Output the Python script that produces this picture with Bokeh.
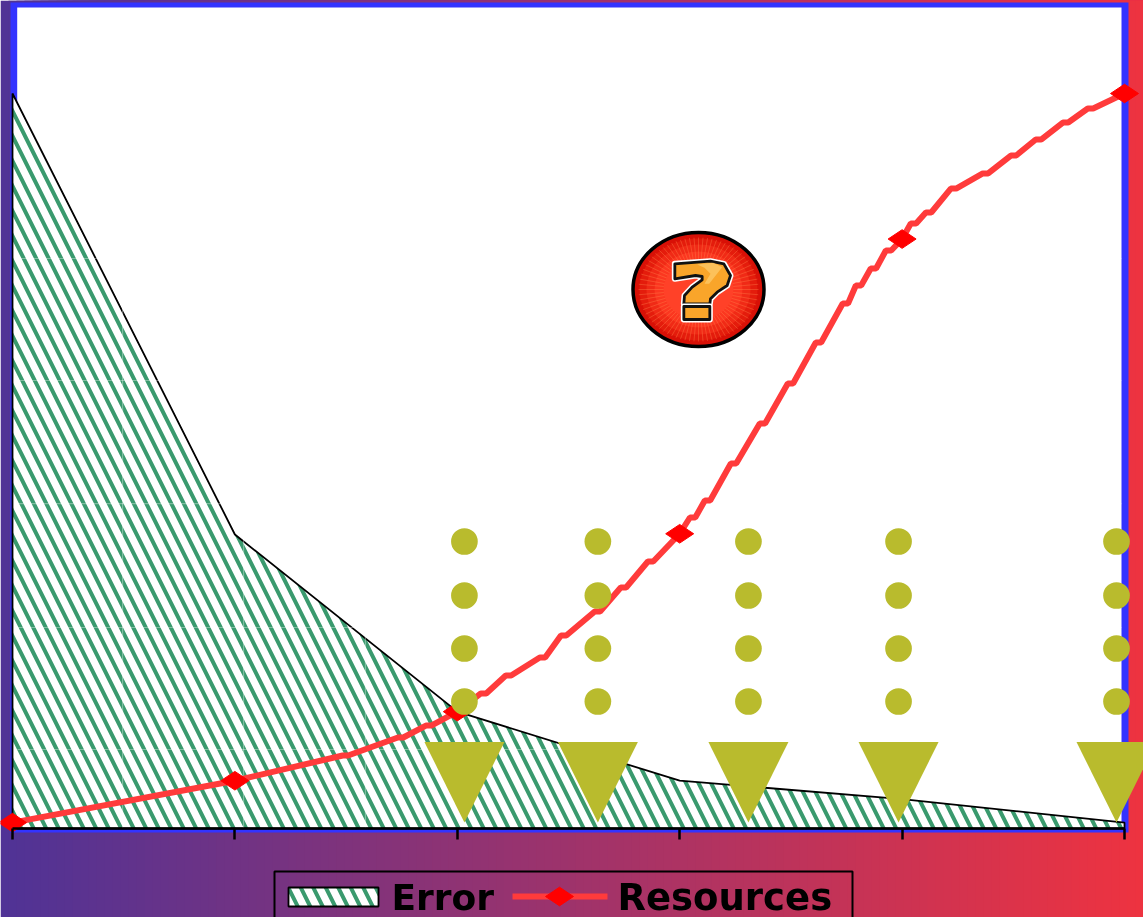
import numpy as np
from bokeh.plotting import figure
from bokeh.models import FixedTicker
from bokeh.core.properties import value
from bokeh.embed import file_html
from bokeh.resources import INLINE

# ---- data (x = category index, y = percent) ----
categories = [0, 1, 2, 3, 4, 5]
error_values = [100, 40, 15.9, 6.5, 4.0, 0.8]
resources_values = [0.8, 6.5, 15.9, 40.1, 80.2, 100]

# the drawn Resources line runs through these readings, with small jogs
path_x = [0, 1, 1.497, 1.745, 1.871, 2, 2.118, 2.230, 2.383, 2.478, 2.630, 2.747, 2.869, 3,
          3.058, 3.125, 3.242, 3.372, 3.498, 3.624, 3.745, 3.804, 3.871, 3.939, 4,
          4.051, 4.119, 4.231, 4.375, 4.501, 4.613, 4.735, 4.847, 5]
path_y = [0.8, 6.5, 9.93, 12.38, 14.0, 15.9, 18.37, 20.82, 23.27, 26.26, 29.52, 32.79, 36.33, 40.1,
          42.31, 44.63, 49.66, 55.10, 60.54, 66.12, 71.43, 73.88, 76.19, 78.64, 80.2,
          82.31, 83.81, 87.07, 89.12, 91.56, 93.74, 96.05, 97.96, 100]

marker_x = [2.032, 2.632, 3.309, 3.984, 4.964]
dot_levels = [39.05, 31.7, 24.49, 17.28]
triangle_tip = 0.82
triangle_top = 11.77
grid_x = [0.495, 1.039, 1.587]
grid_y = [77.55, 60.95, 44.2, 27.35, 10.75]
legend_labels = ["Error", "Resources"]

W, H = 1143, 917
X0, XS, Y0, YS = 12, 222.4, 828, 7.35


def px(v):
    return (np.asarray(v, dtype=float) - X0) / XS


def py(v):
    return (Y0 - np.asarray(v, dtype=float)) / YS


p = figure(width=W, height=H, output_backend="svg", toolbar_location=None,
           x_range=(float(px(0)), float(px(W))), y_range=(float(py(H)), float(py(0))),
           min_border=0, outline_line_color=None, border_fill_alpha=0, background_fill_alpha=0,
           styles={"position": "fixed", "left": "0", "top": "0"})
p.grid.visible = False
p.yaxis.visible = False

# background gradient: each band runs to the right edge and is painted over by the next
n = 143
edges = np.linspace(0, W, n + 1)
c0, c1 = np.array([0x4f, 0x33, 0x96]), np.array([0xee, 0x33, 0x40])
cols = ["#%02x%02x%02x" % tuple(int(round(v)) for v in c0 + (c1 - c0) * (i + .5) / n) for i in range(n)]
p.quad(left=px(edges[:-1]), right=float(px(W)), bottom=float(py(H)), top=float(py(0)),
       fill_color=cols, line_color=None)

# plot area
p.quad(left=px(10), right=px(1128), bottom=py(832), top=py(2), fill_color="#3333ff", line_color=None)
p.quad(left=px(16.7), right=px(1121), bottom=py(828), top=py(7), fill_color="#ffffff", line_color=None)

# error area
hatch = dict(hatch_pattern="left_diagonal_line", hatch_color="#3a9a6e", hatch_weight=4, hatch_scale=25)
p.patch(categories + [5, 0], error_values + [0, 0], fill_color="#ffffff", line_color="#000000",
        line_width=1.8, **hatch)

# faint grid over the hatch
p.segment(x0=[float(px(17))] * len(grid_y), x1=[float(px(1121))] * len(grid_y), y0=grid_y, y1=grid_y,
          line_color="#ffffff", line_alpha=0.35, line_width=1.2)
p.segment(x0=grid_x, x1=grid_x, y0=[0] * len(grid_x), y1=[100] * len(grid_x),
          line_color="#ffffff", line_alpha=0.35, line_width=1.2)

# resources line
lx, ly = [], []
jog = 0.012
for x, y in zip(path_x, path_y):
    if x in categories:
        lx.append(x); ly.append(y)
    else:
        lx += [x - jog, x + jog]; ly += [y, y]
p.line(lx, ly, line_color="#ff3b3b", line_width=6)
p.scatter(categories, resources_values, marker="diamond", size=28, angle=np.pi / 2,
          fill_color="#ff0000", line_color="#ff0000")

# dots and triangles
yellow = "#b9bb2d"
for lev in dot_levels:
    p.scatter(marker_x, [lev] * len(marker_x), marker="circle", size=26.7, fill_color=yellow, line_color=None)
half = 40 / XS
p.patches([[x - half, x + half, x] for x in marker_x],
          [[triangle_top, triangle_top, triangle_tip]] * len(marker_x),
          fill_color=yellow, line_color=None)

# question-mark badge
cx, cy = float(px(698)), float(py(289))
p.ellipse(cx, cy, width=131, height=114, width_units="screen", height_units="screen",
          fill_color="#d81006", line_color="#000000", line_width=3.5)
for w_, h_, c_ in [(118, 102, "#e41c0c"), (104, 90, "#f02a16"), (88, 76, "#fb3720")]:
    p.ellipse(cx, cy, width=w_, height=h_, width_units="screen", height_units="screen",
              fill_color=c_, line_color=None)
ang = np.arange(0, 2 * np.pi, 2 * np.pi / 72)
rad = (60 * 52) / np.sqrt((52 * np.cos(ang)) ** 2 + (60 * np.sin(ang)) ** 2)
p.ray([cx] * len(ang), [cy] * len(ang), length=rad, angle=ang, length_units="screen",
      line_color="#ff8a50", line_alpha=0.35, line_width=1)
p.ellipse(cx, cy, width=70, height=60, width_units="screen", height_units="screen",
          fill_color="#ff4128", line_color=None)
q = np.array([(163, 130), (270, 122), (310, 130), (330, 165), (320, 195), (290, 215), (270, 235), (268, 250),
              (190, 250), (192, 225), (215, 200), (245, 178), (245, 168), (225, 165), (163, 175)], float)
d = np.array([(190, 258), (268, 258), (268, 297), (190, 297)], float)
hl = np.array([(230, 132), (278, 127), (305, 140), (266, 190), (252, 190), (270, 160), (252, 142)], float)
for pts in (q, d):
    xs, ys = px(620 + pts[:, 0] / 3), py(220 + pts[:, 1] / 3)
    p.patch(xs, ys, fill_color=None, line_color="#ffffff", line_width=6, line_join="round")
    p.patch(xs, ys, fill_color="#f9a52a", line_color="#111111", line_width=2.8, line_join="round")
p.patch(px(620 + hl[:, 0] / 3), py(220 + hl[:, 1] / 3), fill_color="#fcc866", line_color=None, fill_alpha=0.8)

# legend, drawn by hand because of its position
p.quad(left=px(274), right=px(852), bottom=py(925), top=py(871), fill_color=None, line_color="#000000", line_width=2)
p.quad(left=px(288), right=px(378), bottom=py(906), top=py(887), fill_color="#ffffff", line_color="#000000",
       line_width=1.8, **hatch)
p.line(px([512, 607]), py([896, 896]), line_color="#ff3b3b", line_width=6)
p.scatter(px([559]), py([896]), marker="diamond", size=28, angle=np.pi / 2, fill_color="#ff0000", line_color="#ff0000")
p.text(px([391]), py([896.5]), text=legend_labels[:1], text_font=value("DejaVu Sans"), text_font_style="bold",
       text_font_size="36px", text_color="#000000", text_baseline="middle", text_align="left")
p.text(px([617]), py([896.5]), text=legend_labels[1:], text_font=value("DejaVu Sans"), text_font_style="bold",
       text_font_size="37px", text_color="#000000", text_baseline="middle", text_align="left")

# category ticks
ax = p.xaxis[0]
ax.fixed_location = 0
ax.bounds = (0, 5)
ax.ticker = FixedTicker(ticks=categories)
ax.axis_line_color = "#000000"
ax.axis_line_width = 2.5
ax.major_tick_line_color = "#000000"
ax.major_tick_line_width = 2.5
ax.major_tick_in = 0
ax.major_tick_out = 11
ax.minor_tick_line_color = None
ax.major_label_text_color = None
ax.major_label_text_font_size = "1px"

open("out.html", "w").write(file_html(p, INLINE))
